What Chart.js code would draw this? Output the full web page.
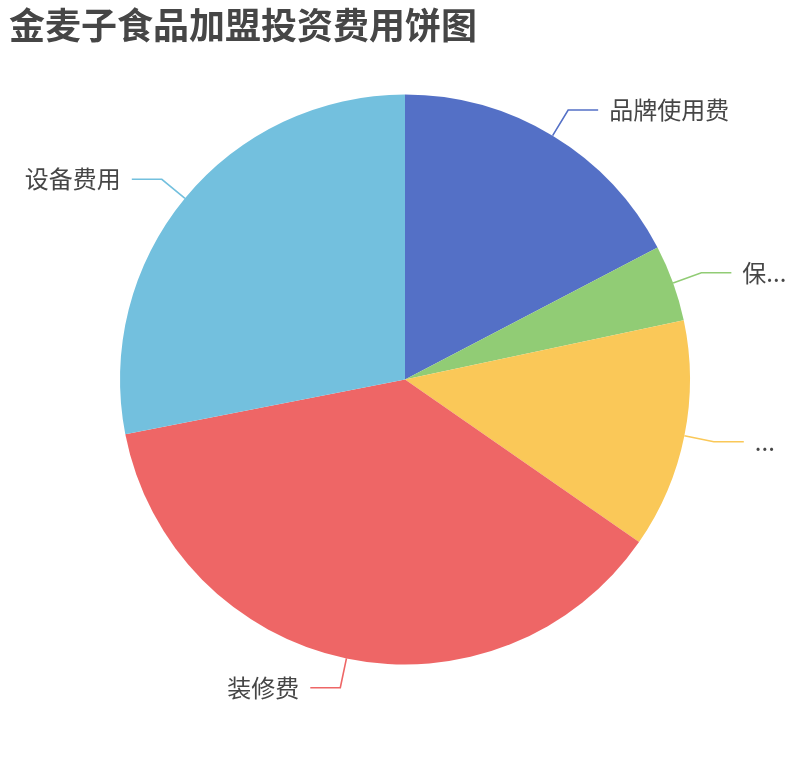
<!DOCTYPE html>
<html><head><meta charset="utf-8">
<script src="https://cdn.jsdelivr.net/npm/chart.js@4"></script>
<style>html,body{margin:0;padding:0;background:#fff}#wrap{width:810px;height:760px;position:relative}</style>
</head><body><div id="wrap"><canvas id="c" width="810" height="760"></canvas></div>
<script>
const titleText = '金麦子食品加盟投资费用饼图';
const categories = ['品牌使用费', '保证金', '首批进货费', '装修费', '设备费用'];
const values = [2, 0.5, 1.5, 4.3, 3.24];
const colors = ['#5470c6', '#91cc75', '#fac858', '#ee6666', '#73c0de'];

const FONT = '"Noto Sans CJK SC", "Noto Sans", sans-serif';

function truncate(ctx, text, maxW) {
  if (ctx.measureText(text).width <= maxW) return text;
  let s = text;
  while (s.length > 0 && ctx.measureText(s + '...').width > maxW) s = s.slice(0, -1);
  return s + '...';
}

const titlePlugin = {
  id: 'ecTitle',
  afterDraw(chart) {
    const ctx = chart.ctx;
    ctx.save();
    ctx.font = 'bold 36px ' + FONT;
    ctx.fillStyle = '#464646';
    ctx.textAlign = 'left';
    ctx.textBaseline = 'middle';
    ctx.fillText(titleText, 9, 25);
    ctx.restore();
  }
};

const labelPlugin = {
  id: 'pieLabels',
  afterDatasetsDraw(chart) {
    const ctx = chart.ctx;
    const meta = chart.getDatasetMeta(0);
    const W = chart.width;
    ctx.save();
    ctx.font = '24px ' + FONT;
    meta.data.forEach((arc, i) => {
      const { x, y, startAngle, endAngle, outerRadius } = arc.getProps(['x', 'y', 'startAngle', 'endAngle', 'outerRadius'], true);
      const mid = (startAngle + endAngle) / 2;
      const c = Math.cos(mid), s = Math.sin(mid);
      const p1 = [x + outerRadius * c, y + outerRadius * s];
      const p2 = [x + (outerRadius + 30) * c, y + (outerRadius + 30) * s];
      const dir = c >= 0 ? 1 : -1;
      const p3 = [p2[0] + dir * 30, p2[1]];
      ctx.strokeStyle = colors[i];
      ctx.lineWidth = 1.6;
      ctx.beginPath();
      ctx.moveTo(p1[0], p1[1]);
      ctx.lineTo(p2[0], p2[1]);
      ctx.lineTo(p3[0], p3[1]);
      ctx.stroke();
      const tx = p3[0] + dir * 11;
      const avail = dir > 0 ? W - tx - 20 : tx - 20;
      const txt = truncate(ctx, categories[i], avail);
      ctx.fillStyle = '#464646';
      ctx.textAlign = dir > 0 ? 'left' : 'right';
      ctx.textBaseline = 'middle';
      ctx.fillText(txt, tx, p3[1]);
    });
    ctx.restore();
  }
};

new Chart(document.getElementById('c'), {
  type: 'pie',
  data: {
    labels: categories,
    datasets: [{
      data: values,
      backgroundColor: colors,
      borderWidth: 0
    }]
  },
  options: {
    responsive: false,
    animation: false,
    radius: 285,
    layout: { padding: { top: 94.5, bottom: 95.5, left: 120, right: 120 } },
    plugins: {
      legend: { display: false },
      title: { display: false },
      tooltip: { enabled: false }
    }
  },
  plugins: [titlePlugin, labelPlugin]
});
</script>
</body></html>
